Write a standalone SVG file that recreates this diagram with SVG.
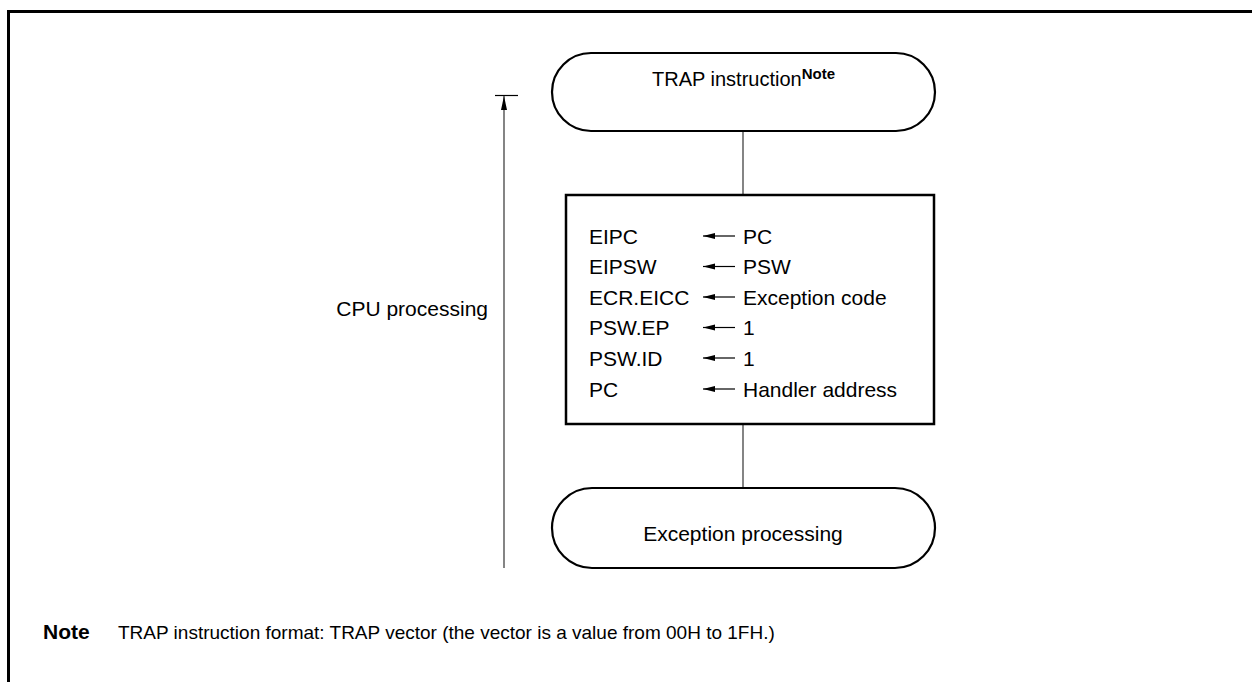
<svg xmlns="http://www.w3.org/2000/svg" width="1252" height="682" viewBox="0 0 1252 682">
<style>
text{font-family:"Liberation Sans",Arial,sans-serif;font-size:21px;fill:#000}
.b{font-weight:bold}
.t20{font-size:20px}
.sup{font-size:15px;font-weight:bold}
.small{font-size:19px}
.term{fill:#fff;stroke:#000;stroke-width:2.2}
.box{fill:#fff;stroke:#000;stroke-width:2.5}
.ln{stroke:#333;stroke-width:1.2;fill:none}
.frame{stroke:#000;stroke-width:3;fill:none}
</style>
<defs>
<marker id="ah" markerWidth="12" markerHeight="8" refX="12" refY="4" orient="auto" markerUnits="userSpaceOnUse">
<path d="M0,1 L12,4 L0,7 Z" fill="#000"/>
</marker>
<marker id="ahs" markerWidth="14" markerHeight="8" refX="14" refY="4" orient="auto" markerUnits="userSpaceOnUse">
<path d="M0,1 L14,4 L0,7 Z" fill="#000"/>
</marker>
</defs>
<g id="frame">
<path class="frame" d="M1252,11.5 H8.5 V682"/>
</g>
<g id="connectors">
<line class="ln" x1="743" y1="131" x2="743" y2="195"/>
<line class="ln" x1="743" y1="424" x2="743" y2="488"/>
<line class="ln" x1="504" y1="568" x2="504" y2="96" marker-end="url(#ahs)"/>
<line x1="495" y1="95.5" x2="518" y2="95.5" stroke="#000" stroke-width="1.2"/>
</g>
<g id="cpu-label">
<text x="488" y="316" text-anchor="end">CPU processing</text>
</g>
<g id="trap">
<rect class="term" x="552" y="53" width="383" height="78" rx="39" ry="39"/>
<text class="t20" x="652" y="86">TRAP instruction<tspan class="sup" dy="-7">Note</tspan></text>
</g>
<g id="process-box">
<rect class="box" x="566" y="195" width="368" height="229"/>
<g>
<text x="589" y="243.5">EIPC</text>
<text x="589" y="274">EIPSW</text>
<text x="589" y="304.5">ECR.EICC</text>
<text x="589" y="335">PSW.EP</text>
<text x="589" y="365.5">PSW.ID</text>
<text x="589" y="396.5">PC</text>
</g>
<g stroke="#000" stroke-width="1.2">
<line x1="735" y1="236" x2="703" y2="236" marker-end="url(#ah)"/>
<line x1="735" y1="266.5" x2="703" y2="266.5" marker-end="url(#ah)"/>
<line x1="735" y1="297" x2="703" y2="297" marker-end="url(#ah)"/>
<line x1="735" y1="327.5" x2="703" y2="327.5" marker-end="url(#ah)"/>
<line x1="735" y1="358" x2="703" y2="358" marker-end="url(#ah)"/>
<line x1="735" y1="389" x2="703" y2="389" marker-end="url(#ah)"/>
</g>
<g>
<text x="743" y="243.5">PC</text>
<text x="743" y="274">PSW</text>
<text x="743" y="304.5">Exception code</text>
<text x="743" y="335">1</text>
<text x="743" y="365.5">1</text>
<text x="743" y="396.5">Handler address</text>
</g>
</g>
<g id="exception">
<rect class="term" x="552" y="488" width="383" height="80" rx="40" ry="40"/>
<text x="743" y="541" text-anchor="middle">Exception processing</text>
</g>
<g id="note">
<text class="b" x="43" y="639">Note</text>
<text class="small" x="118" y="639">TRAP instruction format: TRAP vector (the vector is a value from 00H to 1FH.)</text>
</g>
</svg>
